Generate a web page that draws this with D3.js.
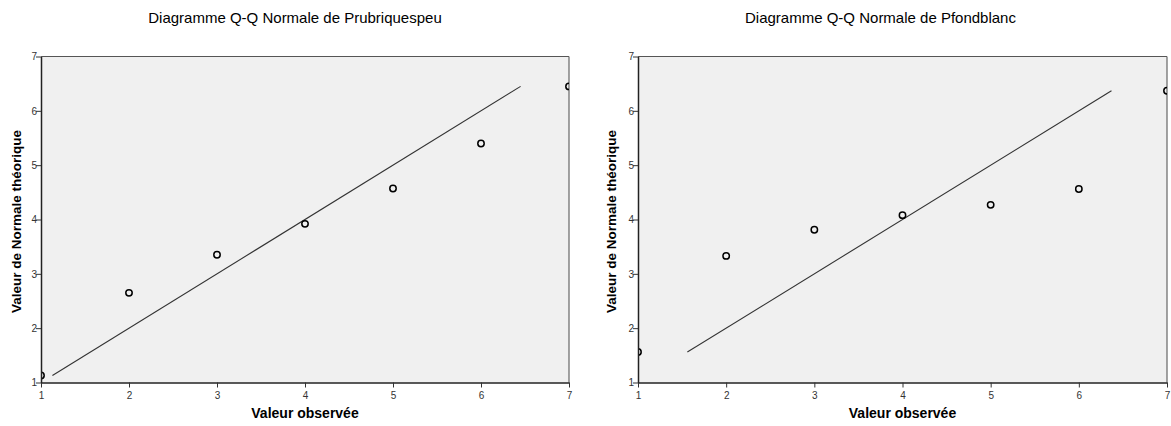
<!DOCTYPE html>
<html>
<head>
<meta charset="utf-8">
<script src="https://cdn.jsdelivr.net/npm/d3@7"></script>
<style>
  html, body { margin: 0; padding: 0; background: #ffffff; }
  svg { display: block; }
  text { font-family: "Liberation Sans", Arial, sans-serif; }
</style>
</head>
<body>
<svg id="chart" width="1171" height="426"></svg>
<script>
// ---- Data ----
const titles = ["Diagramme Q-Q Normale de Prubriquespeu", "Diagramme Q-Q Normale de Pfondblanc"];
const xLabel = "Valeur observée";
const yLabel = "Valeur de Normale théorique";
const observed = [1, 2, 3, 4, 5, 6, 7];
const expectedPrubriquespeu = [1.13, 2.65, 3.35, 3.92, 4.57, 5.40, 6.45];
const expectedPfondblanc = [1.56, 3.33, 3.81, 4.08, 4.27, 4.56, 6.37];
const lineRangePrubriquespeu = [1.13, 6.45];
const lineRangePfondblanc = [1.56, 6.37];
const xTicks = [1, 2, 3, 4, 5, 6, 7];
const yTicks = [1, 2, 3, 4, 5, 6, 7];
const axisDomain = [1, 7];

const panels = [
  { title: titles[0], values: expectedPrubriquespeu, lineRange: lineRangePrubriquespeu,
    panelX: 0, panelW: 590, left: 41, right: 569, yTitleX: 17 },
  { title: titles[1], values: expectedPfondblanc, lineRange: lineRangePfondblanc,
    panelX: 590, panelW: 581, left: 638, right: 1167, yTitleX: 612 }
];
const plotTop = 56.5, plotBottom = 382.5;

const svg = d3.select("#chart");

panels.forEach((p, idx) => {
  const g = svg.append("g");
  const x = d3.scaleLinear().domain(axisDomain).range([p.left, p.right]);
  const y = d3.scaleLinear().domain(axisDomain).range([plotBottom, plotTop]);

  // Title
  g.append("text")
    .attr("x", p.panelX + p.panelW / 2)
    .attr("y", 23)
    .attr("text-anchor", "middle")
    .attr("font-size", "15px")
    .attr("fill", "#000")
    .text(p.title);

  // Plot background
  g.append("rect")
    .attr("x", p.left).attr("y", plotTop)
    .attr("width", p.right - p.left).attr("height", plotBottom - plotTop)
    .attr("fill", "#f0f0f0");

  // top and right frame
  g.append("line").attr("x1", p.left).attr("x2", p.right).attr("y1", plotTop).attr("y2", plotTop)
    .attr("stroke", "#555").attr("stroke-width", 1.2);
  g.append("line").attr("x1", p.right).attr("x2", p.right).attr("y1", plotTop).attr("y2", plotBottom)
    .attr("stroke", "#666").attr("stroke-width", 1.2);

  // clip
  const clipId = "clip" + idx;
  g.append("clipPath").attr("id", clipId).append("rect")
    .attr("x", p.left).attr("y", plotTop)
    .attr("width", p.right - p.left).attr("height", plotBottom - plotTop);

  // Reference line
  g.append("line")
    .attr("x1", x(p.lineRange[0])).attr("y1", y(p.lineRange[0]))
    .attr("x2", x(p.lineRange[1])).attr("y2", y(p.lineRange[1]))
    .attr("stroke", "#333").attr("stroke-width", 1.1);

  // Points
  g.append("g").attr("clip-path", `url(#${clipId})`)
    .selectAll("circle").data(observed.map((o, i) => [o, p.values[i]]))
    .join("circle")
    .attr("cx", d => x(d[0])).attr("cy", d => y(d[1]))
    .attr("r", 3.2)
    .attr("fill", "none").attr("stroke", "#000").attr("stroke-width", 1.5);

  // Axes
  const xAxis = d3.axisBottom(x).tickValues(xTicks).tickSize(5).tickSizeOuter(0).tickFormat(d3.format("d"));
  const yAxis = d3.axisLeft(y).tickValues(yTicks).tickSize(5).tickSizeOuter(0).tickFormat(d3.format("d"));

  const gx = g.append("g").attr("transform", `translate(0,${plotBottom})`).call(xAxis);
  const gy = g.append("g").attr("transform", `translate(${p.left},0)`).call(yAxis);
  [gx, gy].forEach(a => {
    a.select(".domain").attr("stroke", "#222").attr("stroke-width", 1.5);
    a.selectAll(".tick line").attr("stroke", "#333");
    a.selectAll(".tick text").attr("font-size", "10px").attr("fill", "#333")
      .attr("font-family", "'Liberation Sans', Arial, sans-serif");
  });
  gx.selectAll(".tick text").attr("dy", "0.85em");
  gy.selectAll(".tick text").attr("x", -4);

  // Axis titles
  g.append("text")
    .attr("x", (p.left + p.right) / 2)
    .attr("y", 418)
    .attr("text-anchor", "middle")
    .attr("font-size", "14px").attr("font-weight", "bold")
    .attr("fill", "#000")
    .text(xLabel);

  g.append("text")
    .attr("transform", `translate(${p.yTitleX},${(plotTop + plotBottom) / 2 + 2}) rotate(-90)`)
    .attr("text-anchor", "middle")
    .attr("dominant-baseline", "middle")
    .attr("font-size", "13.5px").attr("font-weight", "bold")
    .attr("fill", "#000")
    .text(yLabel);
});
</script>
</body>
</html>
